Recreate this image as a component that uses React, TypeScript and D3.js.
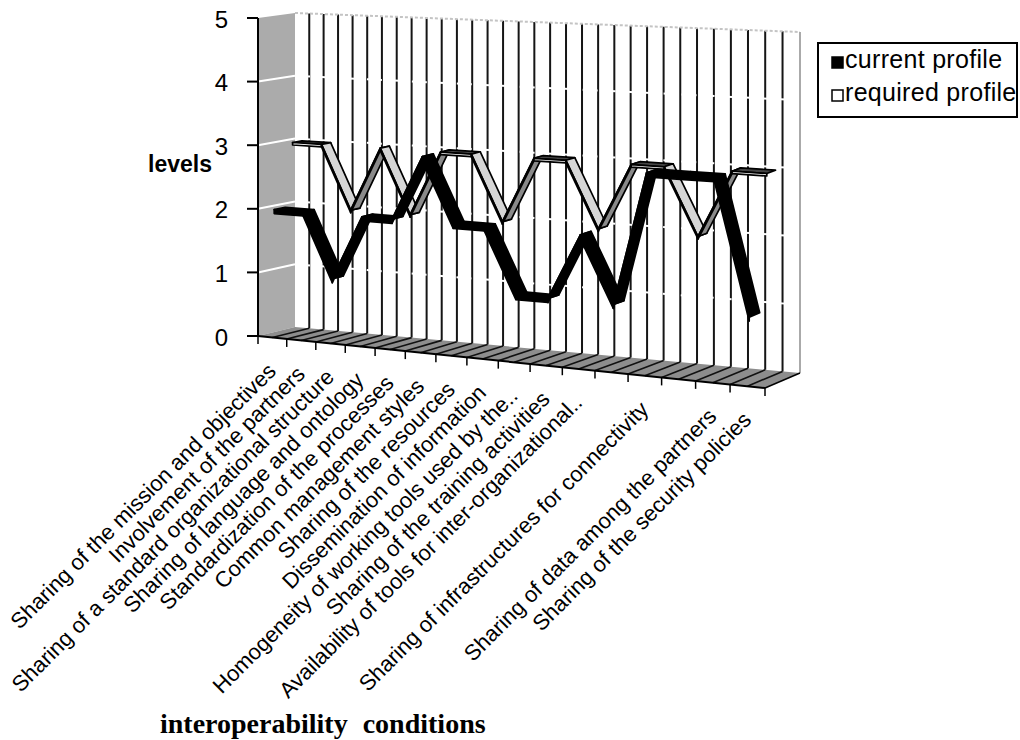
import * as d3 from "d3";
import React from "react";

// categories (two slots carry no visible label in the original)
const categories = [
  "Sharing of the mission and objectives",
  "Involvement of the partners",
  "Sharing of a standard organizational structure",
  "Sharing of language and ontology",
  "Standardization of the processes",
  "Common management styles",
  "Sharing of the resources",
  "Dissemination of information",
  "Homogeneity of working tools used by the..",
  "Sharing of the training activities",
  "Availability of tools for inter-organizational..",
  "",
  "Sharing of infrastructures for connectivity",
  "",
  "Sharing of data among the partners",
  "Sharing of the security policies",
];
const currentProfile = [2, 2, 1, 2, 2, 3, 2, 2, 1, 1, 2, 1, 3, 3, 3, 1];
const requiredProfile = [3, 3, 2, 3, 2, 3, 3, 2, 3, 3, 2, 3, 3, 2, 3, 3];
const levelTicks = [0, 1, 2, 3, 4, 5];
const seriesNames = ["current profile", "required profile"];

// box corners on screen (front / back plane)
const FRONT = { lb: [258, 336], lt: [258, 18], rb: [765, 388], rt: [765, 45] };
const BACK = { lb: [295, 327], lt: [295, 13], rb: [800, 373], rt: [800, 32] };

const n = categories.length;
const catScale = d3.scaleLinear().domain([0, n]).range([0, 1]);
const valScale = d3.scaleLinear().domain([0, 5]).range([0, 1]);
const persp = (u: number) => u / (u + 1.11 * (1 - u));

const lerp = (a: number[], b: number[], s: number) => [a[0] + (b[0] - a[0]) * s, a[1] + (b[1] - a[1]) * s];

// t = category position, v = level, d = depth 0 (front) .. 1 (back wall)
function P(t: number, v: number, d: number) {
  const g = persp(catScale(t));
  const fb = lerp(FRONT.lb, FRONT.rb, g);
  const ft = lerp(FRONT.lt, FRONT.rt, g);
  const bb = lerp(BACK.lb, BACK.rb, g);
  const bt = lerp(BACK.lt, BACK.rt, g);
  const bot = lerp(fb, bb, d);
  const top = lerp(ft, bt, d);
  return lerp(bot, top, valScale(v));
}

const poly = (pts: number[][]) => "M" + pts.map((p) => p[0].toFixed(1) + "," + p[1].toFixed(1)).join("L") + "Z";

function Ribbon({ values, d0, d1, h, dark }: { values: number[]; d0: number; d1: number; h: number; dark: boolean }) {
  const tops: React.ReactNode[] = [];
  const fronts: React.ReactNode[] = [];
  for (let i = 0; i < values.length - 1; i++) {
    const a = i + 0.5, b = i + 1.5;
    const va = values[i], vb = values[i + 1];
    const a0 = P(a, va, d0), b0 = P(b, vb, d0), b1 = P(b, vb, d1), a1 = P(a, va, d1);
    let topFill = "#000";
    if (!dark) topFill = vb < va ? "#d6d6d6" : vb > va ? "#8a8a8a" : "#444";
    tops.push(<path key={"t" + i} d={poly([a0, b0, b1, a1])} fill={topFill} stroke="#000" strokeWidth={1.7} strokeLinejoin="round" />);
    const a2 = [a0[0], a0[1] + h], b2 = [b0[0], b0[1] + h];
    fronts.push(<path key={"f" + i} d={poly([a0, b0, b2, a2])} fill={dark ? "#000" : "#fff"} stroke="#000" strokeWidth={1.7} strokeLinejoin="round" />);
  }
  return (
    <g>
      {tops}
      {fronts}
    </g>
  );
}

export default function App() {
  const gridT = d3.range(0.5, n, 0.5);
  const tickT = d3.range(0, n + 1);
  const font = "'Liberation Sans', Arial, sans-serif";

  return (
    <svg width={1020} height={740} style={{ position: "absolute", left: 0, top: 0, background: "#fff" }}>
      {/* left side wall */}
      <path d={poly([P(0, 0, 0), P(0, 5, 0), P(0, 5, 1), P(0, 0, 1)])} fill="#ababab" />
      {levelTicks.slice(1, 5).map((v) => {
        const p = P(0, v, 0), q = P(0, v, 1);
        return <line key={"sw" + v} x1={p[0]} y1={p[1]} x2={q[0]} y2={q[1]} stroke="#fff" strokeWidth={2} />;
      })}

      {/* floor */}
      <path d={poly([P(0, 0, 0), P(n, 0, 0), P(n, 0, 1), P(0, 0, 1)])} fill="#8d8d8d" />
      {gridT.map((t) => {
        const p = P(t, 0, 0), q = P(t, 0, 1);
        return <line key={"fl" + t} x1={p[0]} y1={p[1]} x2={q[0]} y2={q[1]} stroke="#111" strokeWidth={1.6} />;
      })}

      {/* back wall gridlines */}
      {gridT.map((t) => {
        const p = P(t, 0, 1), q = P(t, 5, 1);
        return <line key={"bw" + t} x1={p[0]} y1={p[1]} x2={q[0]} y2={q[1]} stroke="#151515" strokeWidth={2} />;
      })}
      {levelTicks.slice(1, 5).map((v) => {
        const p = P(0, v, 1), q = P(n, v, 1);
        return <line key={"hw" + v} x1={p[0]} y1={p[1]} x2={q[0]} y2={q[1]} stroke="#fff" strokeWidth={2} strokeDasharray="6,3" />;
      })}
      {(() => {
        const a = P(0, 5, 1), b = P(n, 5, 1), c = P(n, 0, 1);
        return (
          <g>
            <line x1={a[0]} y1={a[1]} x2={b[0]} y2={b[1]} stroke="#c4c4c4" strokeWidth={2} strokeDasharray="3,2" />
            <line x1={b[0]} y1={b[1]} x2={c[0]} y2={c[1]} stroke="#aaa" strokeWidth={2} />
          </g>
        );
      })()}

      {/* series: required behind, current in front */}
      <Ribbon values={requiredProfile} d0={0.55} d1={0.8} h={2.5} dark={false} />
      <Ribbon values={currentProfile} d0={0.05} d1={0.35} h={4} dark={true} />

      {/* front edge, ticks, value axis */}
      {(() => {
        const a = P(0, 0, 0), b = P(n, 0, 0), c = P(n, 0, 1), top = P(0, 5, 0);
        return (
          <g>
            <line x1={a[0]} y1={a[1]} x2={b[0]} y2={b[1]} stroke="#000" strokeWidth={2} />
            <line x1={b[0]} y1={b[1]} x2={c[0]} y2={c[1]} stroke="#000" strokeWidth={1.5} />
            <line x1={a[0]} y1={a[1]} x2={top[0]} y2={top[1]} stroke="#000" strokeWidth={2} />
          </g>
        );
      })()}
      {tickT.map((t) => {
        const p = P(t, 0, 0);
        return <line key={"tk" + t} x1={p[0]} y1={p[1]} x2={p[0]} y2={p[1] + 8} stroke="#000" strokeWidth={1.5} />;
      })}
      {levelTicks.map((v) => {
        const p = P(0, v, 0);
        return (
          <g key={"lv" + v}>
            <line x1={p[0] - 11} y1={p[1]} x2={p[0]} y2={p[1]} stroke="#000" strokeWidth={2} />
            <text x={p[0] - 30} y={p[1] + 9.5} textAnchor="end" fontFamily={font} fontSize={24} fill="#000">
              {v}
            </text>
          </g>
        );
      })}
      <text x={212} y={172} textAnchor="end" fontFamily={font} fontWeight="bold" fontSize={23} fill="#000">
        levels
      </text>

      {/* category labels */}
      {categories.map((c, i) => {
        if (!c) return null;
        const p = P(i + 0.5, 0, 0);
        const x = p[0] + 5, y = p[1] + 35;
        return (
          <text key={"cl" + i} x={x} y={y} transform={`rotate(-45 ${x} ${y})`} textAnchor="end" fontFamily={font} fontSize={22} fill="#000">
            {c}
          </text>
        );
      })}

      <text x={160} y={733} fontFamily="'Liberation Serif', 'Times New Roman', serif" fontWeight="bold" fontSize={28} wordSpacing={8} fill="#000">
        interoperability conditions
      </text>

      {/* legend */}
      <rect x={818} y={43} width={199} height={74} fill="#fff" stroke="#000" strokeWidth={2} />
      {seriesNames.map((s, i) => (
        <g key={s}>
          <rect x={832} y={57 + i * 33} width={11} height={11} fill={i === 0 ? "#000" : "#fff"} stroke="#000" strokeWidth={1.5} />
          <text x={845} y={68 + i * 33} fontFamily={font} fontSize={25} letterSpacing={0.3} fill="#000">
            {s}
          </text>
        </g>
      ))}
    </svg>
  );
}
